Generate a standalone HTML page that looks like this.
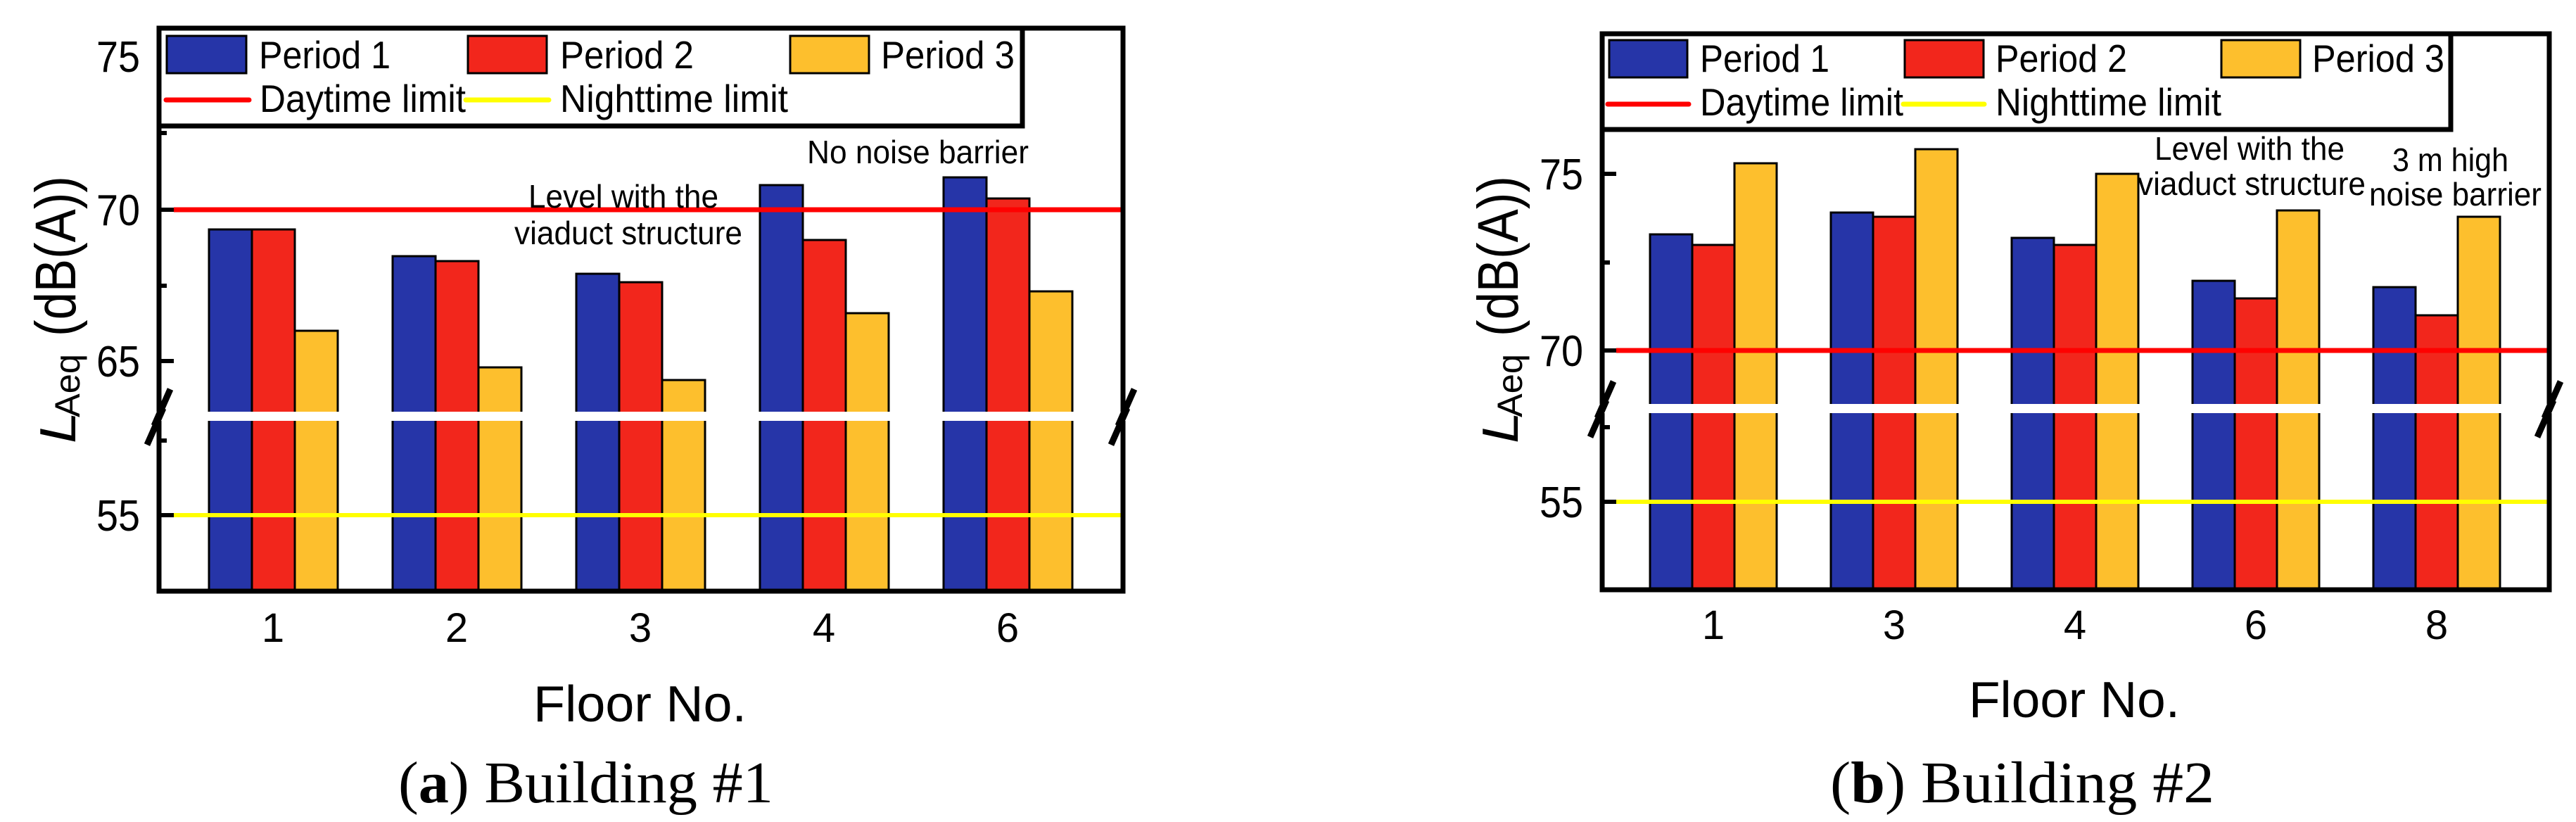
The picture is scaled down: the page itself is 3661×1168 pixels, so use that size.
<!DOCTYPE html>
<html><head><meta charset="utf-8"><style>
html,body{margin:0;padding:0;background:#fff;}
svg{display:block;}
text{font-family:"Liberation Sans",sans-serif;fill:#000;}
.s{font-family:"Liberation Serif",serif;}
</style></head><body>
<svg width="3661" height="1168" viewBox="0 0 3661 1168" xmlns="http://www.w3.org/2000/svg">
<g stroke="#000" stroke-width="3">
<g fill="#2635a8">
<rect x="297" y="326" width="61" height="514"/><rect x="558" y="364" width="61" height="476"/><rect x="819" y="389" width="61" height="451"/><rect x="1080" y="263" width="61" height="577"/><rect x="1341" y="252" width="61" height="588"/>
</g>
<g fill="#f2261c">
<rect x="358" y="326" width="61" height="514"/><rect x="619" y="371" width="61" height="469"/><rect x="880" y="401" width="61" height="439"/><rect x="1141" y="341" width="61" height="499"/><rect x="1402" y="282" width="61" height="558"/>
</g>
<g fill="#fdbf2d">
<rect x="419" y="470" width="61" height="370"/><rect x="680" y="522" width="61" height="318"/><rect x="941" y="540" width="61" height="300"/><rect x="1202" y="445" width="61" height="395"/><rect x="1463" y="414" width="61" height="426"/>
</g>
<g fill="#2635a8">
<rect x="2345" y="333" width="60" height="505"/><rect x="2602" y="302" width="60" height="536"/><rect x="2859" y="338" width="60" height="500"/><rect x="3116" y="399" width="60" height="439"/><rect x="3373" y="408" width="60" height="430"/>
</g>
<g fill="#f2261c">
<rect x="2405" y="348" width="60" height="490"/><rect x="2662" y="308" width="60" height="530"/><rect x="2919" y="348" width="60" height="490"/><rect x="3176" y="424" width="60" height="414"/><rect x="3433" y="448" width="60" height="390"/>
</g>
<g fill="#fdbf2d">
<rect x="2465" y="232" width="60" height="606"/><rect x="2722" y="212" width="60" height="626"/><rect x="2979" y="247" width="60" height="591"/><rect x="3236" y="299" width="60" height="539"/><rect x="3493" y="308" width="60" height="530"/>
</g>
</g>
<line x1="247" y1="298" x2="1596" y2="298" stroke="#ff0000" stroke-width="7"/>
<line x1="247" y1="732" x2="1596" y2="732" stroke="#ffff00" stroke-width="6"/>
<line x1="2297" y1="498" x2="3623" y2="498" stroke="#ff0000" stroke-width="7"/>
<line x1="2297" y1="713" x2="3623" y2="713" stroke="#ffff00" stroke-width="6"/>
<rect x="215" y="585" width="1395" height="13" fill="#fff"/>
<rect x="2265" y="574" width="1370" height="13" fill="#fff"/>
<g fill="none" stroke="#000" stroke-width="7">
<path d="M226 585 V40 H1596 V585 M226 598 V840 H1596 V598"/>
<path d="M2277 574 V48 H3623 V574 M2277 587 V838 H3623 V587"/>
</g>
<g stroke="#000" stroke-width="6">
<line x1="226" y1="189" x2="237" y2="189"/><line x1="226" y1="298" x2="247" y2="298"/><line x1="226" y1="406" x2="237" y2="406"/><line x1="226" y1="513" x2="247" y2="513"/><line x1="226" y1="626" x2="237" y2="626"/><line x1="226" y1="732" x2="247" y2="732"/>
<line x1="2277" y1="247" x2="2297" y2="247"/><line x1="2277" y1="373" x2="2288" y2="373"/><line x1="2277" y1="498" x2="2297" y2="498"/><line x1="2277" y1="607" x2="2288" y2="607"/><line x1="2277" y1="713" x2="2297" y2="713"/>
</g>
<g stroke="#000" stroke-width="9">
<line x1="242" y1="553" x2="219" y2="605"/><line x1="232" y1="580" x2="209" y2="632"/>
<line x1="1612" y1="553" x2="1589" y2="605"/><line x1="1602" y1="580" x2="1579" y2="632"/>
<line x1="2293" y1="542" x2="2270" y2="594"/><line x1="2283" y1="569" x2="2260" y2="621"/>
<line x1="3639" y1="542" x2="3616" y2="594"/><line x1="3629" y1="569" x2="3606" y2="621"/>
</g>
<rect x="226" y="40" width="1227" height="139" fill="none" stroke="#000" stroke-width="7"/>
<g stroke="#000" stroke-width="3">
<rect x="237" y="51" width="113" height="53" fill="#2635a8"/><rect x="665" y="51" width="112" height="53" fill="#f2261c"/><rect x="1123" y="51" width="112" height="53" fill="#fdbf2d"/>
</g>
<line x1="236" y1="142" x2="354" y2="142" stroke="#ff0000" stroke-width="7" stroke-linecap="round"/>
<line x1="662" y1="142" x2="780" y2="142" stroke="#ffff00" stroke-width="7" stroke-linecap="round"/>
<g font-size="55">
<text x="368" y="97" textLength="187" lengthAdjust="spacingAndGlyphs">Period 1</text>
<text x="796" y="97" textLength="190" lengthAdjust="spacingAndGlyphs">Period 2</text>
<text x="1252" y="97" textLength="190" lengthAdjust="spacingAndGlyphs">Period 3</text>
<text x="369" y="159" textLength="293" lengthAdjust="spacingAndGlyphs">Daytime limit</text>
<text x="796" y="159" textLength="324" lengthAdjust="spacingAndGlyphs">Nighttime limit</text>
</g>
<rect x="2277" y="48" width="1206" height="136" fill="none" stroke="#000" stroke-width="7"/>
<g stroke="#000" stroke-width="3">
<rect x="2287" y="57" width="111" height="53" fill="#2635a8"/><rect x="2707" y="57" width="112" height="53" fill="#f2261c"/><rect x="3157" y="57" width="112" height="53" fill="#fdbf2d"/>
</g>
<line x1="2285" y1="148" x2="2400" y2="148" stroke="#ff0000" stroke-width="7" stroke-linecap="round"/>
<line x1="2705" y1="148" x2="2820" y2="148" stroke="#ffff00" stroke-width="7" stroke-linecap="round"/>
<g font-size="55">
<text x="2416" y="102" textLength="184" lengthAdjust="spacingAndGlyphs">Period 1</text>
<text x="2836" y="102" textLength="187" lengthAdjust="spacingAndGlyphs">Period 2</text>
<text x="3286" y="102" textLength="188" lengthAdjust="spacingAndGlyphs">Period 3</text>
<text x="2416" y="164" textLength="289" lengthAdjust="spacingAndGlyphs">Daytime limit</text>
<text x="2836" y="164" textLength="321" lengthAdjust="spacingAndGlyphs">Nighttime limit</text>
</g>
<g font-size="46">
<text x="1147" y="232" textLength="315" lengthAdjust="spacingAndGlyphs">No noise barrier</text>
<text x="751" y="295" textLength="270" lengthAdjust="spacingAndGlyphs">Level with the</text>
<text x="731" y="347" textLength="324" lengthAdjust="spacingAndGlyphs">viaduct structure</text>
<text x="3062" y="227" textLength="270" lengthAdjust="spacingAndGlyphs">Level with the</text>
<text x="3038" y="277" textLength="324" lengthAdjust="spacingAndGlyphs">viaduct structure</text>
<text x="3400" y="243" textLength="165" lengthAdjust="spacingAndGlyphs">3 m high</text>
<text x="3367" y="292" textLength="245" lengthAdjust="spacingAndGlyphs">noise barrier</text>
</g>
<g font-size="62" text-anchor="end">
<text x="199" y="102" textLength="62" lengthAdjust="spacingAndGlyphs">75</text>
<text x="199" y="320" textLength="62" lengthAdjust="spacingAndGlyphs">70</text>
<text x="199" y="535" textLength="62" lengthAdjust="spacingAndGlyphs">65</text>
<text x="199" y="754" textLength="62" lengthAdjust="spacingAndGlyphs">55</text>
<text x="2250" y="269" textLength="62" lengthAdjust="spacingAndGlyphs">75</text>
<text x="2250" y="520" textLength="62" lengthAdjust="spacingAndGlyphs">70</text>
<text x="2250" y="735" textLength="62" lengthAdjust="spacingAndGlyphs">55</text>
</g>
<g font-size="58" text-anchor="middle">
<text x="388" y="912">1</text><text x="649" y="912">2</text><text x="910" y="912">3</text><text x="1171" y="912">4</text><text x="1432" y="912">6</text>
<text x="2435" y="908">1</text><text x="2692" y="908">3</text><text x="2949" y="908">4</text><text x="3206" y="908">6</text><text x="3463" y="908">8</text>
</g>
<text x="758" y="1025" font-size="72" textLength="303" lengthAdjust="spacingAndGlyphs">Floor No.</text>
<text x="2798" y="1019" font-size="72" textLength="300" lengthAdjust="spacingAndGlyphs">Floor No.</text>
<g transform="translate(107,630) rotate(-90)">
<text x="0" y="0" font-size="72" font-style="italic" textLength="45" lengthAdjust="spacingAndGlyphs">L</text>
<text x="37" y="6" font-size="50" textLength="90" lengthAdjust="spacingAndGlyphs">Aeq</text>
<text x="152" y="0" font-size="82" textLength="228" lengthAdjust="spacingAndGlyphs">(dB(A))</text>
</g>
<g transform="translate(2157,630) rotate(-90)">
<text x="0" y="0" font-size="72" font-style="italic" textLength="45" lengthAdjust="spacingAndGlyphs">L</text>
<text x="37" y="6" font-size="50" textLength="90" lengthAdjust="spacingAndGlyphs">Aeq</text>
<text x="152" y="0" font-size="82" textLength="228" lengthAdjust="spacingAndGlyphs">(dB(A))</text>
</g>
<text class="s" x="566" y="1140" font-size="84" textLength="533" lengthAdjust="spacingAndGlyphs">(<tspan font-weight="bold">a</tspan>) Building #1</text>
<text class="s" x="2601" y="1140" font-size="84" textLength="546" lengthAdjust="spacingAndGlyphs">(<tspan font-weight="bold">b</tspan>) Building #2</text>
</svg>
</body></html>
